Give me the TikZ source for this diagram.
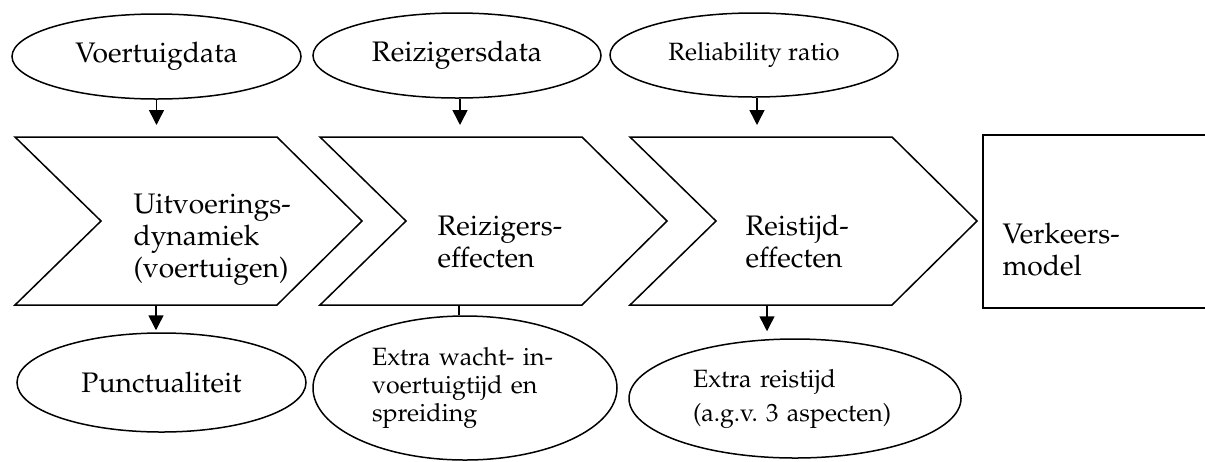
\documentclass[tikz,border=0pt]{standalone}
\usepackage[T1]{fontenc}
\usepackage{mathpazo}
\usetikzlibrary{shapes.geometric,arrows.meta}
\frenchspacing

\tikzset{
  ell/.style={draw, ellipse, line width=0.6pt, inner sep=0pt},
  arr/.style={line width=0.6pt, -{Triangle[length=6pt,width=6pt]}},
  bigtxt/.style={font=\fontsize{11.3}{12.8}\selectfont},
  smalltxt/.style={font=\fontsize{10}{11.2}\selectfont},
}

\begin{document}
\begin{tikzpicture}[x=0.4pt, y=-0.4pt]
\useasboundingbox (0,0) rectangle (1205,461);

% invoer
\node[ell, bigtxt, minimum width=115.6pt, minimum height=34pt] (vd) at (156.5,56.5) {Voertuigdata};
\node[ell, bigtxt, minimum width=115.2pt, minimum height=34pt] (rd) at (457,55.5) {Reizigersdata};
\node[ell, smalltxt, minimum width=115.2pt, minimum height=33.6pt] (rr) at (754,55) {Reliability ratio};

% pijlvormen
\draw[line width=0.6pt] (15,137) -- (277,137) -- (362,221) -- (277,305) -- (15,305) -- (101,221) -- cycle;
\draw[line width=0.6pt] (320,137) -- (582,137) -- (667,221) -- (582,305) -- (320,305) -- (406,221) -- cycle;
\draw[line width=0.6pt] (630,137) -- (892,137) -- (977,221) -- (892,305) -- (630,305) -- (716,221) -- cycle;
\draw[line width=0.6pt] (983,135) rectangle (1215,308);
\coordinate (c1top) at (156,137);
\coordinate (c1bot) at (156,305);
\coordinate (c2top) at (460,137);
\coordinate (c2bot) at (459,305);
\coordinate (c3top) at (757,137);
\coordinate (c3bot) at (767,305);

\node[bigtxt, align=left, anchor=west, inner sep=0pt] (uit) at (133,240) {Uitvoerings-\\dynamiek\\(voertuigen)};
\node[bigtxt, align=left, anchor=west, inner sep=0pt] (reiz) at (437,242) {Reizigers-\\effecten};
\node[bigtxt, align=left, anchor=west, inner sep=0pt] (reis) at (745,242) {Reistijd-\\effecten};
\node[bigtxt, align=left, anchor=west, inner sep=0pt] (vm) at (1002,250) {Verkeers-\\model};

% uitvoer
\node[ell, bigtxt, minimum width=115.6pt, minimum height=39.6pt] (pu) at (161.5,382.5) {Punctualiteit};
\node[ell, smalltxt, align=left, text width=74.4pt, minimum width=121.6pt, minimum height=57.6pt] (ew) at (465,388) {Extra wacht- in-\\voertuigtijd en\\spreiding};
\node[ell, font=\fontsize{10}{13.6}\selectfont, align=left, text width=81.6pt, minimum width=132.8pt, minimum height=47.6pt] (er) at (795,398.5) {Extra reistijd\\(a.g.v. 3 aspecten)};

\draw[arr, shorten >=4.8pt] (vd.south) -- (vd.south |- c1top);
\draw[arr, shorten >=4.8pt] (rd.south -| c2top) -- (c2top);
\draw[arr, shorten >=4.8pt] (rr.south -| c3top) -- (c3top);
\draw[arr, shorten >=0.8pt] (c1bot) -- (c1bot |- pu.north);
\draw[line width=0.6pt] (c2bot) -- (c2bot |- ew.north);
\draw[arr, shorten >=2.8pt] (c3bot) -- (c3bot |- er.north);
\end{tikzpicture}
\end{document}
